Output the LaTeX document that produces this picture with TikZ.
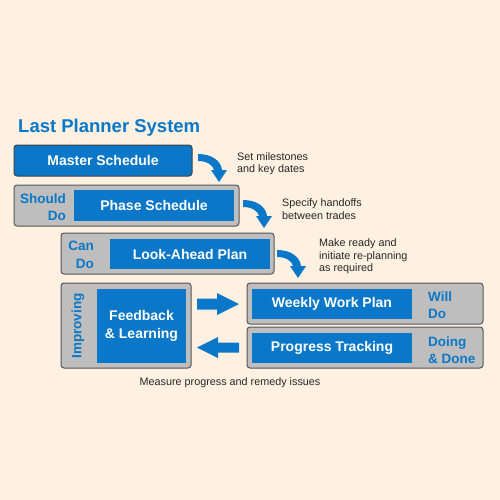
\documentclass[tikz,border=0pt]{standalone}
\usepackage{fontspec}
\setmainfont{Liberation Sans}
\definecolor{bgc}{HTML}{FEF1E2}
\definecolor{lpblue}{HTML}{0A77C8}
\definecolor{lpgray}{HTML}{BEBEBE}
\definecolor{lpedge}{HTML}{555555}
\begin{document}
\begin{tikzpicture}[x=1pt,y=-1pt,
 graybox/.style={draw=lpedge,fill=lpgray,rounded corners=3pt,line width=1pt,inner sep=0},
 bluebox/.style={fill=lpblue,inner sep=0,text=white,font=\fontsize{14}{18}\selectfont\bfseries,align=center},
 side/.style={text=lpblue,font=\fontsize{13.5}{17.5}\selectfont\bfseries,inner sep=0},
 note/.style={font=\fontsize{10.8}{12.6}\selectfont,inner sep=0,align=left,anchor=north west,text=black!85},
 curvarrow/.pic={\fill[lpblue] (0,0) .. controls (14,0) and (23,7) .. (24,16) -- (29,16) -- (21,28) -- (13,16) -- (16,16) .. controls (15,11) and (9,7) .. (0,7) -- cycle;}
]
\fill[bgc] (0,0) rectangle (500,500);
\useasboundingbox (0,0) rectangle (500,500);

\node[anchor=base west,text=lpblue,font=\fontsize{18.5}{20}\selectfont\bfseries,inner sep=0] (title) at (18,132) {Last Planner System};

% Master schedule
\node[bluebox,draw=black!75,line width=1pt,rounded corners=3pt,minimum width=178pt,minimum height=31pt] (master) at (103,160.5) {Master Schedule};

% Phase schedule
\node[graybox,minimum width=225pt,minimum height=41pt] (phaseg) at (126.5,205.5) {};
\node[bluebox,minimum width=160pt,minimum height=31pt] (phase) at (154,205.5) {Phase Schedule};
\node[side,align=right,anchor=east] (should) at (66,207) {Should\\Do};

% Look-ahead
\node[graybox,minimum width=213pt,minimum height=41pt] (lookg) at (167.5,253.5) {};
\node[bluebox,minimum width=160pt,minimum height=30pt] (look) at (190,254) {Look-Ahead Plan};
\node[side,align=right,anchor=east] (cando) at (94,255) {Can\\Do};

% Feedback & learning
\node[graybox,minimum width=130pt,minimum height=85pt] (fbg) at (126,325.5) {};
\node[bluebox,minimum width=89pt,minimum height=74pt] (fb) at (141.5,326) {Feedback\\\& Learning};
\node[side,rotate=90] (impr) at (78,326) {Improving};

% Weekly work plan
\node[graybox,minimum width=236pt,minimum height=41pt] (wwpg) at (365,303.5) {};
\node[bluebox,minimum width=160pt,minimum height=30pt] (wwp) at (332,304) {Weekly Work Plan};
\node[side,align=left,anchor=west] (willdo) at (428,305) {Will\\Do};

% Progress tracking
\node[graybox,minimum width=236pt,minimum height=41pt] (ptg) at (365,347.5) {};
\node[bluebox,minimum width=160pt,minimum height=30pt] (pt) at (332,348) {Progress Tracking};
\node[side,align=left,anchor=west] (doing) at (428,350) {Doing\\\& Done};

% curved arrows
\coordinate (c1) at (198,154);
\coordinate (c2) at (243,200);
\coordinate (c3) at (277,250);
\pic at (c1) {curvarrow};
\pic at (c2) {curvarrow};
\pic at (c3) {curvarrow};

% notes
\node[note] (n1) at (237,152) {Set milestones\\and key dates};
\node[note] (n2) at (282,198.5) {Specify handoffs\\between trades};
\node[note] (n3) at (319,238.5) {Make ready and\\initiate re-planning\\as required};
\node[font=\fontsize{10.8}{12.6}\selectfont,inner sep=0,anchor=base,text=black!85] (n4) at (230,385) {Measure progress and remedy issues};

% straight block arrows
\fill[lpblue] (197,298.5) -- (217,298.5) -- (217,293) -- (239,304) -- (217,315) -- (217,309.5) -- (197,309.5) -- cycle;
\fill[lpblue] (239,342.5) -- (218,342.5) -- (218,337) -- (197,347.5) -- (218,358) -- (218,352.5) -- (239,352.5) -- cycle;
\end{tikzpicture}
\end{document}
